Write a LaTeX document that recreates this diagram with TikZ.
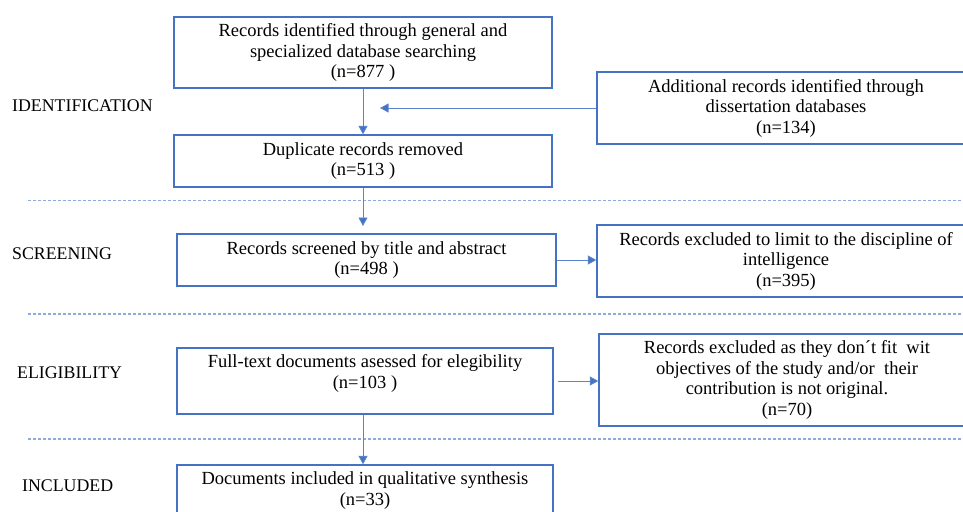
\documentclass[tikz,border=0pt]{standalone}
\usepackage{fontspec}
\setmainfont{Liberation Serif}
\usetikzlibrary{arrows.meta}
\definecolor{boxblue}{HTML}{4472C4}
\definecolor{arrowblue}{HTML}{5B84CC}
\definecolor{dashblue}{HTML}{8EAADB}
\begin{document}
\begin{tikzpicture}[x=1pt,y=-1pt,
  font=\fontsize{18.5}{20.5}\selectfont,
  box/.style={draw=boxblue, line width=1.3pt, inner sep=0pt, align=center, minimum width=378pt},
  plain/.style={inner sep=0pt, align=center},
  stage/.style={inner sep=0pt, anchor=west, font=\fontsize{17.8}{18}\selectfont},
  arr/.style={draw=arrowblue, line width=0.9pt, -{Triangle[length=8.5pt,width=9pt,fill=boxblue]}},
  sep/.style={draw=dashblue, line width=1.1pt, dash pattern=on 3pt off 2pt}]
\useasboundingbox (0,0) rectangle (963,511);

% stage labels
\node[stage] (lid) at (12,106) {IDENTIFICATION};
\node[stage] (lsc) at (12,254) {SCREENING};
\node[stage] (lel) at (17,373) {ELIGIBILITY};
\node[stage] (lin) at (22,486) {INCLUDED};

% separators
\draw[sep] (28,200.5) -- (963,200.5);
\draw[sep] (28,314) -- (963,314);
\draw[sep] (28,439) -- (963,439);

% boxes
\node[box, minimum height=71pt] (b1) at (363,52.5)
  {Records identified through general and\\specialized database searching\\(n=877 )};
\node[box, minimum height=52pt] (b2) at (363,161)
  {Duplicate records removed\\(n=513 )};
\node[box, minimum height=72pt] (add) at (786,108)
  {Additional records identified through\\dissertation databases\\(n=134)};
\node[box, minimum width=379pt, minimum height=52pt] (scr) at (366.5,260)
  {Records screened by title and abstract\\(n=498 )};
\node[box, minimum height=72pt] (ex1) at (786,261)
  {Records excluded to limit to the discipline of\\intelligence\\(n=395)};
\node[box, minimum width=376pt, minimum height=66pt] (eli) at (365,381) {};
\node[plain] (elit) at (365,373.5)
  {Full-text documents asessed for elegibility\\(n=103 )};
\node[box, minimum width=376pt, minimum height=92pt] (ex2) at (787,380)
  {Records excluded as they don´t fit~ wit\\objectives of the study and/or~ their\\contribution is not original.\\(n=70)};
\node[box, minimum width=376pt, minimum height=51pt] (inc) at (365,490.5)
  {Documents included in qualitative synthesis\\(n=33)};

% free ends
\coordinate (m1) at (380,108);
\coordinate (m2) at (363,226);

% connectors
\draw[arr] (b1) -- (b2);
\draw[arr] (add.west) -- (m1);
\draw[arr] (b2.south) -- (m2);
\draw[arr] (scr.east) -- (scr.east -| ex1.west);
\draw[arr] ([xshift=4pt]eli.east) -- (eli.east -| ex2.west);
\draw[arr] ([xshift=-2pt]eli.south) -- ([xshift=-2pt]inc.north);
\end{tikzpicture}
\end{document}
